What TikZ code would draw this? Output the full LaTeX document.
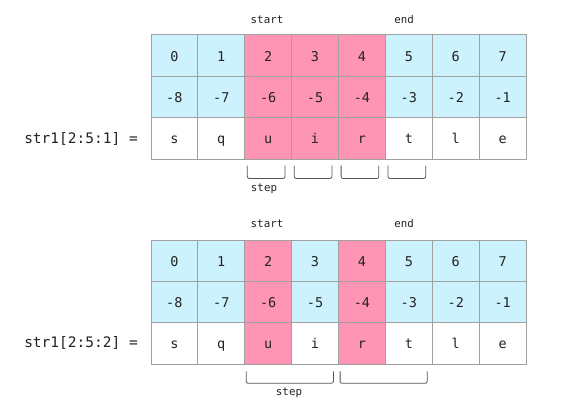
\documentclass[tikz,border=0pt]{standalone}
\usepackage{fontspec}
\setmonofont{DejaVu Sans Mono}
\definecolor{cblue}{HTML}{CCF2FD}
\definecolor{cpink}{HTML}{FF95B5}
\definecolor{cgrid}{HTML}{A0A0A0}
\definecolor{cbrk}{HTML}{555555}
\definecolor{ctext}{HTML}{222222}
\begin{document}
\begin{tikzpicture}[x=1pt,y=-1pt,
  cell/.style={draw=cgrid,line width=0.8pt,minimum width=46.9pt,minimum height=41.4pt,inner sep=0pt,anchor=north west,text height=11pt,text depth=0pt,font=\ttfamily\fontsize{13.5}{13.5}\selectfont,text=ctext},
  ann/.style={font=\ttfamily\fontsize{10.8}{10.8}\selectfont,text=ctext,text height=8pt,text depth=2pt,inner sep=0pt},
  rowlab/.style={font=\ttfamily\fontsize{14.5}{14.5}\selectfont,text=ctext},
  brk/.style={draw=cbrk,line width=0.8pt,rounded corners=2pt}]
\useasboundingbox (0,0) rectangle (568,412);
\fill[white] (0,0) rectangle (568,412);
% ---------- table 1 ----------
\foreach \c/\p/\n/\s/\f in {0/0/-8/s/0,1/1/-7/q/0,2/2/-6/u/1,3/3/-5/i/1,4/4/-4/r/1,5/5/-3/t/0,6/6/-2/l/0,7/7/-1/e/0}{
  \ifnum\f=1
    \node[cell,fill=cpink] (a-1-\c) at ({150.5+46.9*\c},34.5) {\p};
    \node[cell,fill=cpink] (a-2-\c) at ({150.5+46.9*\c},75.9) {\n};
    \node[cell,fill=cpink] (a-3-\c) at ({150.5+46.9*\c},117.3) {\s};
  \else
    \node[cell,fill=cblue] (a-1-\c) at ({150.5+46.9*\c},34.5) {\p};
    \node[cell,fill=cblue] (a-2-\c) at ({150.5+46.9*\c},75.9) {\n};
    \node[cell,fill=white] (a-3-\c) at ({150.5+46.9*\c},117.3) {\s};
  \fi
}
\node[ann] (start1) at (267,20.5) {start};
\node[ann] (end1) at (404,20.5) {end};
\node[rowlab] (lab1) at (81,138.5) {str1[2:5:1] =};
\foreach \c in {2,3,4,5}{
  \draw[brk] ([xshift=3pt,yshift=-6pt]a-3-\c.south west) -- ([xshift=3pt,yshift=-19pt]a-3-\c.south west)
    -- ([xshift=-7pt,yshift=-19pt]a-3-\c.south east) -- ([xshift=-7pt,yshift=-6pt]a-3-\c.south east);
}
\node[ann] (step1) at (264,188.5) {step};
% ---------- table 2 ----------
\foreach \c/\p/\n/\s/\f in {0/0/-8/s/0,1/1/-7/q/0,2/2/-6/u/1,3/3/-5/i/0,4/4/-4/r/1,5/5/-3/t/0,6/6/-2/l/0,7/7/-1/e/0}{
  \ifnum\f=1
    \node[cell,fill=cpink] (b-1-\c) at ({150.5+46.9*\c},239.5) {\p};
    \node[cell,fill=cpink] (b-2-\c) at ({150.5+46.9*\c},280.8) {\n};
    \node[cell,fill=cpink] (b-3-\c) at ({150.5+46.9*\c},322.1) {\s};
  \else
    \node[cell,fill=cblue] (b-1-\c) at ({150.5+46.9*\c},239.5) {\p};
    \node[cell,fill=cblue] (b-2-\c) at ({150.5+46.9*\c},280.8) {\n};
    \node[cell,fill=white] (b-3-\c) at ({150.5+46.9*\c},322.1) {\s};
  \fi
}
\node[ann] (start2) at (267,224.5) {start};
\node[ann] (end2) at (404,224.5) {end};
\node[rowlab] (lab2) at (81,342.5) {str1[2:5:2] =};
\draw[brk] ([xshift=2pt,yshift=-7pt]b-3-2.south west) -- ([xshift=2pt,yshift=-19pt]b-3-2.south west)
  -- ([xshift=-5.5pt,yshift=-19pt]b-3-3.south east) -- ([xshift=-5.5pt,yshift=-7pt]b-3-3.south east);
\draw[brk] ([xshift=2pt,yshift=-7pt]b-3-4.south west) -- ([xshift=2pt,yshift=-19pt]b-3-4.south west)
  -- ([xshift=-5.5pt,yshift=-19pt]b-3-5.south east) -- ([xshift=-5.5pt,yshift=-7pt]b-3-5.south east);
\node[ann] (step2) at (289,392.5) {step};
\end{tikzpicture}
\end{document}
